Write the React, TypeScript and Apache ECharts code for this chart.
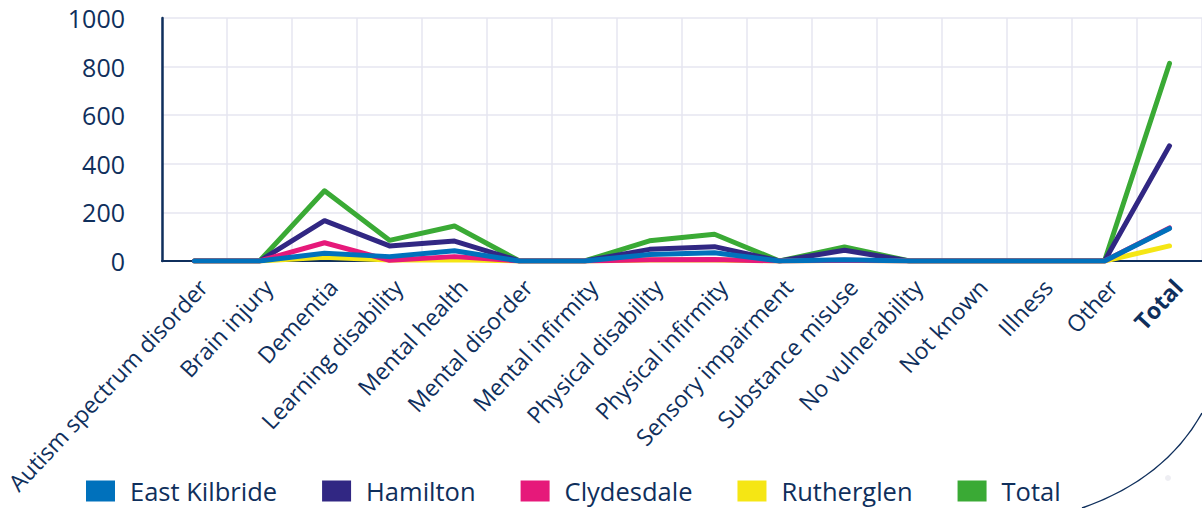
import React, { useEffect, useRef } from "react";
import * as echarts from "echarts";

const categories = [
  "Autism spectrum disorder",
  "Brain injury",
  "Dementia",
  "Learning disability",
  "Mental health",
  "Mental disorder",
  "Mental infirmity",
  "Physical disability",
  "Physical infirmity",
  "Sensory impairment",
  "Substance misuse",
  "No vulnerability",
  "Not known",
  "Illness",
  "Other",
  "Total",
];

const eastKilbride = [0, 0, 32, 18, 42, 0, 0, 27, 34, 0, 5, 0, 0, 0, 0, 134];
const hamilton = [0, 0, 166, 62, 82, 0, 0, 48, 59, 0, 44, 0, 0, 0, 0, 474];
const clydesdale = [0, 0, 75, 3, 18, 0, 0, 5, 6, 0, 3, 0, 0, 0, 0, 136];
const rutherglen = [0, 0, 15, 4, 5, 0, 0, 4, 4, 0, 2, 0, 0, 0, 0, 62];
const total = [0, 0, 289, 85, 144, 0, 0, 83, 110, 0, 58, 0, 0, 0, 0, 813];

const legendOrder = ["East Kilbride", "Hamilton", "Clydesdale", "Rutherglen", "Total"];

const NAVY = "#0f2f5c";
const GRID = "#e6e6f0";
const FONT = "Open Sans";

export default function App() {
  const ref = useRef<HTMLDivElement>(null);
  useEffect(() => {
    if (!ref.current) return;
    const chart = echarts.init(ref.current, undefined, { renderer: "svg" });
    const mk = (name: string, data: number[], color: string) => ({
      name,
      type: "line",
      data,
      symbol: "none",
      color,
      lineStyle: { color, width: 5, cap: "round", join: "round" },
    });
    chart.setOption({
      animation: false,
      textStyle: { fontFamily: FONT },
      grid: {
        left: 162,
        right: 0,
        top: 18,
        bottom: 247,
        containLabel: false,
        outerBoundsMode: "none",
      },
      legend: {
        data: legendOrder,
        left: 86,
        top: 478,
        padding: 0,
        icon: "rect",
        itemWidth: 29,
        itemHeight: 21,
        itemGap: 45,
        textStyle: {
          color: NAVY,
          fontSize: 25.5,
          fontFamily: FONT,
          lineHeight: 21,
          padding: [0, 0, 0, 10],
        },
      },
      xAxis: {
        type: "category",
        data: categories,
        boundaryGap: true,
        axisTick: { show: false },
        axisLine: { show: true, lineStyle: { color: NAVY, width: 2 } },
        splitLine: { show: true, interval: 0, lineStyle: { color: GRID, width: 1.5 } },
        axisLabel: {
          interval: 0,
          rotate: 47,
          margin: 14,
          verticalAlign: "top",
          color: NAVY,
          fontSize: 23,
          fontFamily: FONT,
          formatter: (v: string) => (v === "Total" ? "{b|Total}" : v),
          rich: {
            b: { fontWeight: "bold", color: NAVY, fontSize: 23, fontFamily: FONT },
          },
        },
      },
      yAxis: {
        type: "value",
        min: 0,
        max: 1000,
        interval: 200,
        axisLine: { show: true, lineStyle: { color: NAVY, width: 2.5 } },
        axisTick: { show: false },
        splitLine: { show: true, lineStyle: { color: GRID, width: 1.5 } },
        axisLabel: {
          color: NAVY,
          fontSize: 25,
          fontFamily: FONT,
          margin: 37,
          formatter: (v: number) => String(v),
        },
      },
      series: [
        mk("Total", total, "#3aaa35"),
        mk("Hamilton", hamilton, "#312783"),
        mk("Rutherglen", rutherglen, "#f5e614"),
        mk("Clydesdale", clydesdale, "#e6197a"),
        mk("East Kilbride", eastKilbride, "#0071bc"),
      ],
      graphic: [
        {
          type: "bezierCurve",
          shape: { x1: 1082, y1: 508, x2: 1202, y2: 413, cpx1: 1165, cpy1: 479 },
          style: { stroke: NAVY, lineWidth: 1.5, fill: "none" },
          z: 10,
        },
        {
          type: "circle",
          shape: { cx: 1168, cy: 478, r: 3 },
          style: { fill: "#eeeef3" },
        },
      ],
    });
    return () => chart.dispose();
  }, []);
  return (
    <div
      ref={ref}
      style={{ position: "absolute", left: 0, top: 0, width: 1202, height: 508 }}
    />
  );
}
